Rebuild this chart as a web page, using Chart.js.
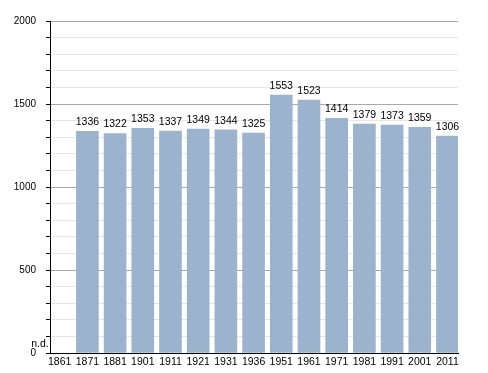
<!DOCTYPE html>
<html>
<head>
<meta charset="utf-8">
<script src="https://cdn.jsdelivr.net/npm/chart.js@4"></script>
<style>
  html, body { margin: 0; padding: 0; background: #fff; }
</style>
</head>
<body>
<canvas id="chart" width="488" height="373"></canvas>
<script>
// census years and population (1861 has no data)
const years = ['1861', '1871', '1881', '1901', '1911', '1921', '1931', '1936', '1951', '1961', '1971', '1981', '1991', '2001', '2011']
const population = [null, 1336, 1322, 1353, 1337, 1349, 1344, 1325, 1553, 1523, 1414, 1379, 1373, 1359, 1306]
const missingLabel = 'n.d.'
const yMajorTicks = [0, 500, 1000, 1500, 2000]

const barColor = 'rgb(156,179,206)'
const font = { family: '"Liberation Sans", Arial, sans-serif', size: 10 }

const valueLabels = {
    id: 'valueLabels',
    afterDatasetsDraw(chart) {
        const ctx = chart.ctx
        const xs = chart.scales.x
        const ys = chart.scales.y
        ctx.save()
        ctx.fillStyle = '#000'
        ctx.font = `10.5px ${font.family}`
        ctx.textBaseline = 'middle'
        population.forEach((v, i) => {
            const x = xs.getPixelForValue(i)
            if (v === null) {
                ctx.textAlign = 'right'
                ctx.fillText(missingLabel, x - 11, ys.getPixelForValue(0) - 9)
            } else {
                ctx.textAlign = 'center'
                ctx.fillText(String(v), x, ys.getPixelForValue(v) - 9)
            }
        })
        ctx.restore()
    }
}

const points = population.map((v, i) => ({ x: i, y: v }))

new Chart(document.getElementById('chart'), {
    type: 'bar',
    data: {
        datasets: [{
            data: points,
            backgroundColor: barColor,
            barThickness: 22
        }]
    },
    options: {
        responsive: false,
        animation: false,
        devicePixelRatio: 1,
        layout: { padding: { top: 21, right: 30, left: 0, bottom: 0 } },
        plugins: { legend: { display: false }, tooltip: { enabled: false } },
        scales: {
            x: {
                type: 'linear',
                offset: false,
                min: -0.35,
                max: 14.38,
                afterBuildTicks: scale => { scale.ticks = years.map((_, i) => ({ value: i })) },
                afterFit: scale => { scale.height = 20 },
                grid: { display: false, offset: false, drawTicks: false },
                border: { display: true, color: '#000', width: 1 },
                ticks: {
                    autoSkip: false,
                    maxRotation: 0,
                    padding: 3,
                    color: '#000',
                    font: { family: font.family, size: 10.5 },
                    callback: v => years[v]
                }
            },
            y: {
                min: 0,
                max: 2000,
                afterFit: scale => { scale.width = 50 },
                border: { display: true, color: '#000', width: 1 },
                grid: {
                    color: c => yMajorTicks.includes(c.tick.value) ? '#a9a9a9' : '#e6e6e6',
                    tickColor: '#000',
                    tickLength: 4
                },
                ticks: {
                    stepSize: 100,
                    autoSkip: false,
                    padding: 10,
                    color: '#000',
                    font: font,
                    callback: v => yMajorTicks.includes(v) ? String(v) : ''
                }
            }
        }
    },
    plugins: [valueLabels]
})
</script>
</body>
</html>
